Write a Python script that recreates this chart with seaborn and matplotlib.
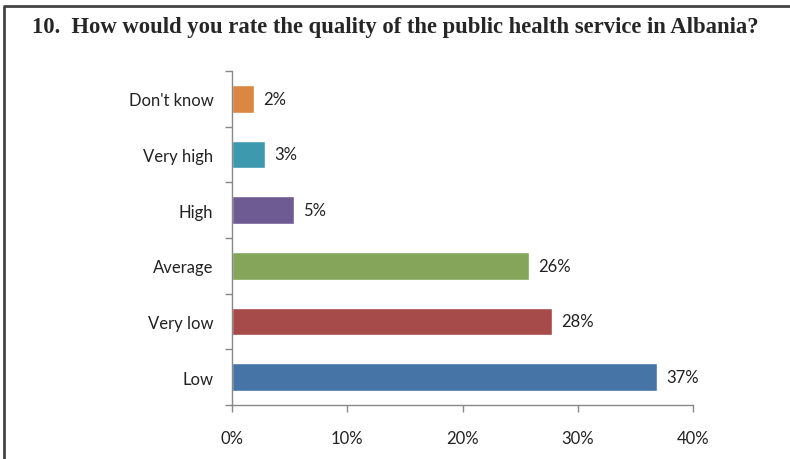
import matplotlib
matplotlib.use('Agg')
import matplotlib.pyplot as plt
import seaborn as sns
import pandas as pd
from matplotlib.lines import Line2D

# answers, top to bottom as in the chart
answers = ["Don't know", 'Very high', 'High', 'Average', 'Very low', 'Low']
shares = [1.9, 2.9, 5.4, 25.8, 27.8, 36.9]
bar_colors = ['#DB8643', '#3D99AE', '#6F5B94', '#84A55A', '#A64B4A', '#4674A6']
x_ticks = [0, 10, 20, 30, 40]
title = '10.  How would you rate the quality of the public health service in Albania?'

df = pd.DataFrame({'answer': answers, 'share': shares})

sns.set_style('white')
plt.rcParams['font.family'] = ['Lato', 'DejaVu Sans']

fig = plt.figure(figsize=(7.9, 4.6), dpi=100)
fig.patch.set_edgecolor('none')
fig.patch.set_linewidth(0)
ax = fig.add_axes([0.2937, 0.1174, 0.5835, 0.7261])

sns.barplot(data=df, x='share', y='answer', hue='answer', order=answers,
            palette=bar_colors, width=0.5, legend=False, ax=ax, saturation=1)

for cont in ax.containers:
    ax.bar_label(cont, labels=[f'{v:.0f}%' for v in cont.datavalues],
                 padding=6.5, fontsize=12, color='#222222')

ax.set_xlim(0, 40)
ax.set_ylim(len(answers) - 0.5, -0.5)
ax.set_xticks(x_ticks)
ax.set_xticklabels([f'{t}%' for t in x_ticks], fontsize=12, color='#222222')
ax.set_yticks(range(len(answers)))
ax.set_yticklabels(answers, fontsize=12, color='#222222')
ax.set_yticks([i + 0.5 for i in range(-1, len(answers))], minor=True)
ax.tick_params(axis='y', which='major', length=0, pad=13.5)
ax.tick_params(axis='y', which='minor', length=5, width=1, color='#888888', direction='out', left=True)
ax.tick_params(axis='x', which='major', length=5, width=1, color='#888888', direction='out', bottom=True, pad=13)
ax.set_xlabel('')
ax.set_ylabel('')
for side in ['top', 'right']:
    ax.spines[side].set_visible(False)
for side in ['left', 'bottom']:
    ax.spines[side].set_color('#888888')
    ax.spines[side].set_linewidth(1)

fig.text(0.5, 1 - 28 / 460, title, ha='center', va='center', fontsize=16.3,
         fontweight='bold', family='Liberation Serif')

# chart frame (only top and left edges are visible)
fx, fy = 4 / 790, 1 - 7 / 460
fig.lines.append(Line2D([fx, fx, 1.01], [-0.01, fy, fy], transform=fig.transFigure,
                        color='#444444', linewidth=2))

fig.savefig('out.png', dpi=100)
